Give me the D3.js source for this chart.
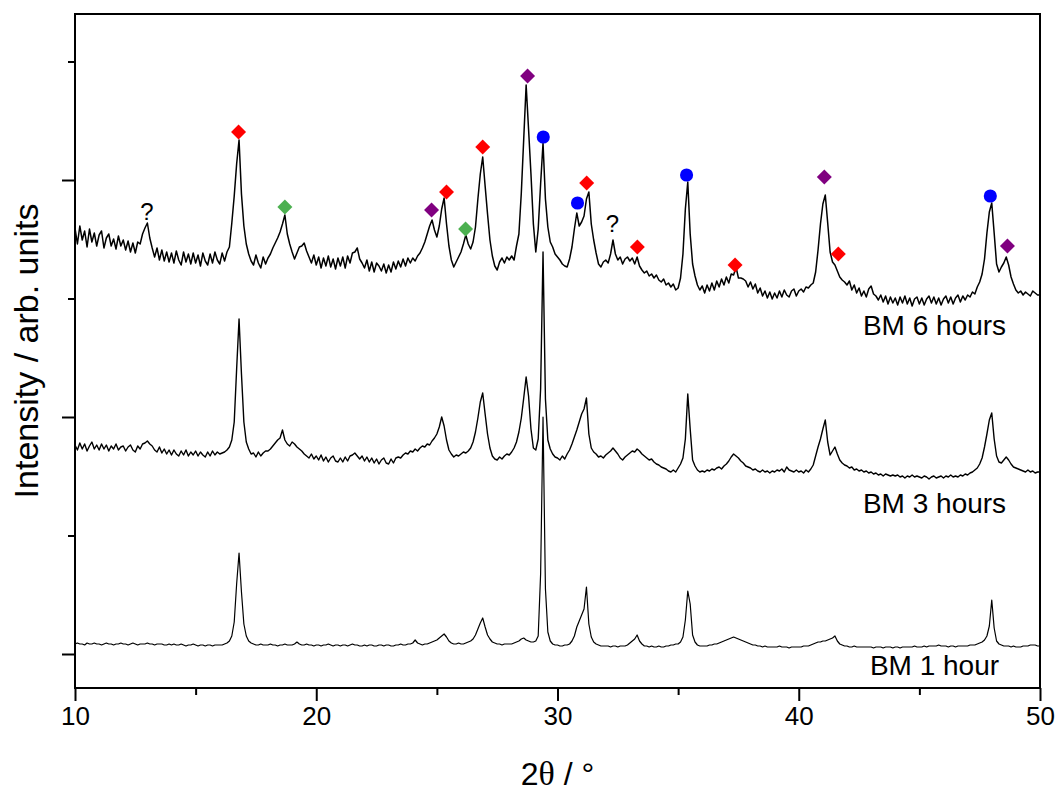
<!DOCTYPE html>
<html>
<head>
<meta charset="utf-8">
<script src="https://cdn.jsdelivr.net/npm/d3@7"></script>
<style>
  body { margin: 0; background: #fff; }
  svg text { font-family: Arial, "Liberation Sans", sans-serif; fill: #000; }
</style>
</head>
<body>
<div id="chart"></div>
<script>
// ---- data (0.1 deg steps from 10 to 50) ----
const twoTheta = d3.range(401).map(i => Math.round(100 + i) / 10);

// BM 1 hour
const bm1h = [
  10,11,10,10,9,11,10,10,11,10,  10,9,10,11,10,10,9,10,10,11,
  10,10,9,10,11,10,9,10,10,10,   11,10,10,9,10,10,10,9,9,10,
  9,10,9,9,10,9,8,9,9,10,        9,8,9,9,8,9,9,8,9,9,
  9,9,10,11,13,18,32,70,101,62,  30,18,13,11,10,9,9,10,9,9,
  9,10,9,9,8,9,9,10,9,9,         9,10,12,10,9,9,10,9,9,8,
  9,9,8,9,9,10,9,8,9,9,          8,9,9,8,9,10,9,9,8,8,
  9,8,9,9,8,8,9,9,8,9,           9,8,8,9,9,10,9,9,10,10,
  11,14,11,10,9,10,10,11,12,13,  14,16,18,20,17,13,11,10,10,11,
  10,10,11,12,13,15,19,25,31,36, 27,19,15,12,11,10,10,9,10,10,
  10,10,11,12,13,15,16,14,13,12, 12,13,18,80,237,65,22,13,10,9,
  9,8,8,9,9,10,13,18,27,33,      39,45,67,30,17,12,10,9,8,8,
  8,8,7,8,8,7,8,8,8,9,           11,13,15,19,13,10,8,8,7,8,
  7,7,8,7,7,8,8,9,9,10,          10,12,17,34,63,50,19,12,9,8,
  8,8,8,9,9,10,10,11,12,13,      14,15,16,17,16,15,14,13,12,11,
  10,9,9,8,8,7,8,7,7,7,          7,7,8,7,7,7,6,7,7,7,
  7,7,8,8,8,9,10,11,12,12,       13,13,14,15,16,18,13,10,9,8,
  8,7,7,8,7,7,7,7,7,7,           7,6,7,7,7,6,7,7,7,6,
  7,7,6,7,7,7,7,7,8,7,           7,7,8,7,8,8,8,8,9,8,
  8,8,7,8,8,7,8,8,8,8,           8,9,9,9,10,11,12,14,18,28,
  54,26,13,10,9,8,8,8,7,8,       7,7,7,8,8,8,9,9,9,8,
  8
];

// BM 3 hours
const bm3h = [
  39,34,41,35,40,33,38,42,35,39,   34,40,35,39,33,38,35,40,34,37,
  38,33,37,39,34,32,38,35,40,41,   43,40,38,34,32,37,31,35,30,34,
  29,34,30,28,33,29,34,28,32,29,   33,28,32,29,27,32,28,33,29,32,
  30,31,32,34,37,44,62,115,165,110, 62,42,35,30,31,27,32,28,31,33,
  33,35,38,41,44,46,54,44,40,38,   42,40,37,35,33,30,28,26,30,25,
  28,24,29,23,27,22,26,28,23,22,   26,22,27,23,28,29,31,28,25,28,
  23,27,22,26,21,25,20,24,26,21,   20,25,21,26,27,26,29,31,30,33,
  32,35,33,36,38,37,40,39,43,46,   50,57,67,58,44,34,30,27,29,28,
  30,32,31,33,36,42,52,66,82,91,   70,50,36,28,25,24,27,25,28,30,
  29,32,36,42,52,66,86,107,88,55,  36,34,45,95,232,85,44,35,30,27,
  26,24,28,25,30,34,40,47,54,62,   70,75,86,50,36,32,30,27,28,26,
  29,31,33,36,33,30,26,24,27,29,   31,33,32,35,33,30,28,26,24,25,
  22,20,19,17,16,15,13,12,14,12,   16,20,26,45,90,55,24,18,14,12,
  13,12,14,13,15,14,16,17,15,18,   20,23,27,30,28,26,23,21,18,17,
  16,14,15,13,12,14,12,13,11,13,   12,14,13,15,12,17,14,13,12,14,
  12,13,11,14,12,15,19,28,37,45,   55,64,42,29,33,37,30,24,21,19,
  18,16,17,14,15,13,14,12,13,11,   12,10,11,9,10,8,10,9,8,9,
  8,9,7,8,6,8,7,9,7,8,             7,6,8,7,5,7,8,6,7,8,
  6,8,7,9,7,8,7,9,8,10,            9,11,12,14,16,20,26,37,50,64,
  71,45,28,22,21,24,27,24,20,17,   16,15,14,13,12,14,12,13,11,12,
  12
];

// BM 6 hours
const bm6h = [
  76,60,78,64,73,57,75,62,71,58,      69,73,56,66,70,58,65,55,68,58,
  64,54,63,52,61,51,62,60,70,76,      81,66,56,47,56,44,54,43,52,42,
  51,41,53,44,39,52,42,50,40,51,      41,49,38,51,43,39,50,41,52,44,
  40,51,43,52,57,81,108,140,164,110,  78,60,50,43,39,49,41,36,47,40,
  46,50,56,61,66,72,80,89,70,60,      52,45,51,57,58,61,53,47,41,49,
  39,47,36,46,38,48,37,45,35,46,      38,47,36,48,41,51,52,56,45,41,
  36,44,33,42,32,41,38,33,40,31,      39,32,42,35,43,37,45,38,46,41,
  46,43,48,51,56,62,70,78,84,74,      67,78,95,106,80,58,44,37,42,47,
  52,60,69,60,55,62,77,105,130,147,   118,90,64,48,38,34,42,46,41,47,
  44,48,44,58,70,111,165,219,175,130, 80,52,75,120,161,105,77,62,57,50,
  47,44,40,38,37,45,57,75,91,78,      82,88,105,112,80,64,51,40,37,42,
  44,41,50,64,50,44,47,40,45,47,      43,46,40,47,38,34,31,33,28,30,
  26,29,24,22,25,19,21,17,20,14,      16,26,50,95,122,70,40,28,19,14,
  18,11,19,13,21,14,23,17,25,19,      27,21,30,29,37,26,26,25,23,17,
  22,15,20,11,16,8,13,6,12,5,         11,6,13,7,14,9,7,13,15,8,
  13,15,12,17,16,19,21,32,54,80,      100,109,81,52,42,39,33,27,24,22,
  19,23,14,19,11,16,8,13,7,15,        18,10,8,4,9,2,8,0,7,1,
  6,-1,7,1,8,0,6,-2,5,7,              0,6,-1,5,8,1,7,0,6,-1,
  5,8,1,7,0,6,9,2,8,4,                9,7,12,10,17,22,30,45,71,92,
  101,71,40,32,37,41,47,39,27,20,     14,11,13,9,12,10,8,13,11,9,
  9
];

const sampleNames = ["BM 1 hour", "BM 3 hours", "BM 6 hours"];
const sampleOffsets = [0, 170, 350];

// phase markers on the 6 hour pattern (2theta, intensity of the 6h trace)
const redTheta = [16.78, 25.4, 26.9, 31.21, 33.31, 37.36, 41.64];
const redValue = [172, 112, 157, 121, 57, 39, 50];
const greenTheta = [18.7, 26.19];
const greenValue = [97, 75];
const purpleTheta = [24.78, 28.76, 41.06, 48.65];
const purpleValue = [94, 228, 127, 58];
const blueTheta = [29.41, 30.83, 35.35, 47.94];
const blueValue = [167, 101, 129, 108];
const unknownTheta = [12.98, 32.28];
const unknownValue = [84, 72];

// sample label anchors (2theta, absolute intensity)
const labelTheta = [42.95, 42.66, 42.66];
const labelValue = [-21, 141, 319];

const xMajor = [10, 20, 30, 40, 50];
const xMinor = [15, 25, 35, 45];
const yMajor = [0, 237, 474];
const yMinor = [118.5, 355.5, 592.5];

// ---- chart ----
const W = 1059, H = 796;
const m = { left: 75, right: 19, top: 14, bottom: 108 };
const pw = W - m.left - m.right, ph = H - m.top - m.bottom;

const svg = d3.select("#chart").append("svg")
  .attr("width", W).attr("height", H);

const x = d3.scaleLinear().domain([10, 50]).range([m.left, m.left + pw]);
const y = d3.scaleLinear().domain([-34, 640]).range([m.top + ph, m.top]);

svg.append("clipPath").attr("id", "plotClip")
  .append("rect").attr("x", m.left).attr("y", m.top).attr("width", pw).attr("height", ph);

const plot = svg.append("g").attr("clip-path", "url(#plotClip)");

const series = [bm1h, bm3h, bm6h];
const widths = [1.2, 1.4, 1.5];
series.forEach((vals, k) => {
  const line = d3.line()
    .x((d, i) => x(twoTheta[i]))
    .y(d => y(d + sampleOffsets[k]));
  plot.append("path")
    .datum(vals)
    .attr("d", line)
    .attr("fill", "none")
    .attr("stroke", "#000")
    .attr("stroke-width", widths[k])
    .attr("stroke-linejoin", "round");
});

// markers
const off6 = sampleOffsets[2];
const diamond = d3.symbol().type(d3.symbolSquare).size(112);
const circle = d3.symbol().type(d3.symbolCircle).size(135);
function addMarkers(ts, vs, color, sym, rot) {
  plot.append("g").selectAll("path")
    .data(ts)
    .join("path")
    .attr("d", sym)
    .attr("transform", (t, i) => `translate(${x(t)},${y(vs[i] + off6)}) rotate(${rot})`)
    .attr("fill", color);
}
addMarkers(redTheta, redValue, "#ff0000", diamond, 45);
addMarkers(greenTheta, greenValue, "#4cb050", diamond, 45);
addMarkers(purpleTheta, purpleValue, "#800080", diamond, 45);
addMarkers(blueTheta, blueValue, "#0000ff", circle, 0);

svg.append("g").selectAll("text")
  .data(unknownTheta)
  .join("text")
  .attr("x", d => x(d))
  .attr("y", (d, i) => y(unknownValue[i] + off6))
  .attr("text-anchor", "middle")
  .attr("font-size", 24)
  .text("?");

// sample labels
svg.append("g").selectAll("text")
  .data(sampleNames)
  .join("text")
  .attr("x", (d, i) => x(labelTheta[i]))
  .attr("y", (d, i) => y(labelValue[i]))
  .attr("font-size", 28)
  .text(d => d);

// axes
const xAxisG = svg.append("g").attr("transform", `translate(0,${m.top + ph})`);
xAxisG.call(d3.axisBottom(x).tickValues(xMajor).tickSize(13).tickPadding(6).tickFormat(d3.format("d")));
xAxisG.append("g").call(d3.axisBottom(x).tickValues(xMinor).tickSize(7).tickFormat(""));
xAxisG.selectAll(".domain").remove();
xAxisG.selectAll("text").attr("font-size", 26).attr("font-family", "Arial, 'Liberation Sans', sans-serif");

const yAxisG = svg.append("g").attr("transform", `translate(${m.left},0)`);
yAxisG.call(d3.axisLeft(y).tickValues(yMajor).tickSize(13).tickFormat(""));
yAxisG.append("g").call(d3.axisLeft(y).tickValues(yMinor).tickSize(7).tickFormat(""));
yAxisG.selectAll(".domain").remove();

svg.selectAll(".tick line").attr("stroke", "#000").attr("stroke-width", 2);

svg.append("rect")
  .attr("x", m.left).attr("y", m.top)
  .attr("width", pw).attr("height", ph)
  .attr("fill", "none").attr("stroke", "#000").attr("stroke-width", 2);

// axis titles
const xTitle = svg.append("text")
  .attr("x", m.left + pw / 2)
  .attr("y", 785)
  .attr("text-anchor", "middle")
  .attr("font-size", 32);
xTitle.append("tspan").text("2");
xTitle.append("tspan").attr("font-family", "'Times New Roman', 'Liberation Serif', serif").attr("font-size", 34).text("θ");
xTitle.append("tspan").text(" / °");

svg.append("text")
  .attr("transform", `translate(38,${m.top + ph / 2}) rotate(-90)`)
  .attr("text-anchor", "middle")
  .attr("font-size", 34)
  .text("Intensity / arb. units");
</script>
</body>
</html>
